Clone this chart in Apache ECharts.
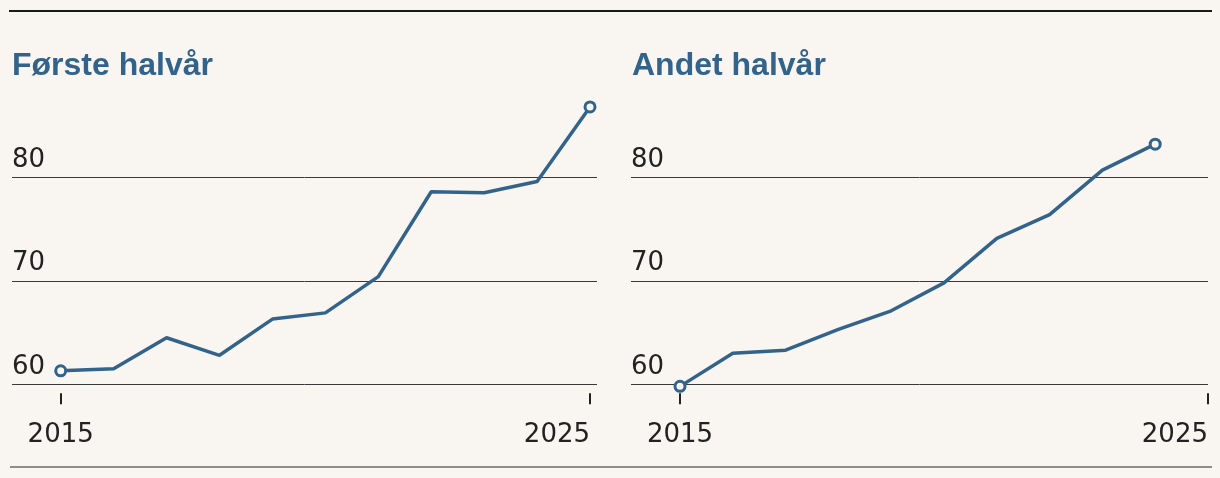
<!DOCTYPE html>
<html><head><meta charset="utf-8">
<script src="https://cdn.jsdelivr.net/npm/echarts@6/dist/echarts.min.js"></script>
<style>html,body{margin:0;padding:0;background:#f9f6f1}#c{width:1220px;height:478px}</style>
</head><body><div id="c"></div>
<script>
const years1 = [2015, 2016, 2017, 2018, 2019, 2020, 2021, 2022, 2023, 2024, 2025];
const firstHalf = [61.3, 61.5, 64.5, 62.8, 66.3, 66.9, 70.4, 78.6, 78.5, 79.6, 86.8];
const years2 = [2015, 2016, 2017, 2018, 2019, 2020, 2021, 2022, 2023, 2024];
const secondHalf = [59.8, 63.0, 63.3, 65.3, 67.1, 69.8, 74.1, 76.4, 80.7, 83.2];
const yTicks = [60, 70, 80];
const xTicks = [2015, 2025];
const titles = ['Første halvår', 'Andet halvår'];

const BG = '#f9f6f1';
const BLUE = '#33638b';
const TXT = '#222222';
const FONT = 'DejaVu Sans';

function yAxis(idx) {
  return {
    type: 'value', gridIndex: idx, min: 59.13, max: 88,
    axisLine: {show: false},
    axisTick: {show: false, customValues: yTicks},
    splitLine: {show: true, lineStyle: {color: '#3a3a3a', width: 1}},
    axisLabel: {
      inside: true, customValues: yTicks, margin: 0, align: 'left',
      verticalAlign: 'bottom', lineHeight: 35,
      fontSize: 26, fontFamily: FONT, color: TXT
    }
  };
}
function xAxis(idx, min, max) {
  return {
    type: 'value', gridIndex: idx, min: min, max: max,
    axisLine: {show: false},
    splitLine: {show: false},
    axisTick: {show: true, customValues: xTicks, length: 11, lineStyle: {color: TXT, width: 2}},
    axisLabel: {
      customValues: xTicks, margin: 29, alignMaxLabel: 'right',
      fontSize: 26, fontFamily: FONT, color: TXT,
      formatter: v => String(v)
    }
  };
}
function series(idx, xs, ys) {
  const n = ys.length;
  return {
    type: 'line', xAxisIndex: idx, yAxisIndex: idx,
    data: xs.map((x, i) => [x, ys[i]]),
    clip: false,
    showSymbol: true,
    symbol: (v, p) => (p.dataIndex === 0 || p.dataIndex === n - 1) ? 'circle' : 'none',
    symbolSize: 10,
    itemStyle: {color: BG, borderColor: BLUE, borderWidth: 3},
    lineStyle: {color: BLUE, width: 3.5},
    emphasis: {disabled: true}
  };
}

const chart = echarts.init(document.getElementById('c'), null, {renderer: 'canvas'});
chart.setOption({
  animation: false,
  backgroundColor: BG,
  title: [
    {text: titles[0], left: 12, top: 50, padding: 0,
     textStyle: {fontSize: 32, fontWeight: 'bold', fontFamily: 'Liberation Sans', color: BLUE}},
    {text: titles[1], left: 632, top: 50, padding: 0,
     textStyle: {fontSize: 32, fontWeight: 'bold', fontFamily: 'Liberation Sans', color: BLUE}}
  ],
  grid: [
    {left: 12, width: 585, top: 94.5, height: 298.8},
    {left: 631, width: 577, top: 94.5, height: 298.8}
  ],
  xAxis: [xAxis(0, 2014.08, 2025.132), xAxis(1, 2014.072, 2025)],
  yAxis: [yAxis(0), yAxis(1)],
  series: [series(0, years1, firstHalf), series(1, years2, secondHalf)],
  graphic: [
    {type: 'rect', shape: {x: 9, y: 10, width: 1203, height: 2}, style: {fill: '#1a1a1a'}, silent: true},
    {type: 'rect', shape: {x: 10, y: 466, width: 1202, height: 2}, style: {fill: '#8e8d88'}, silent: true}
  ]
});
</script>
</body></html>
